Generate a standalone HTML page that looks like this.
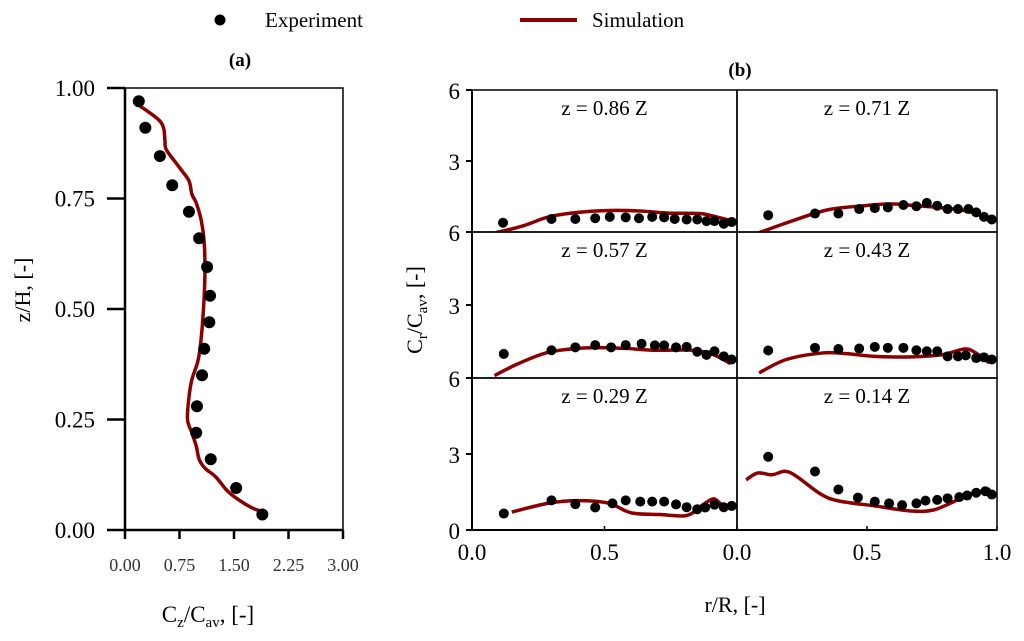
<!DOCTYPE html>
<html><head><meta charset="utf-8"><style>
html,body{margin:0;padding:0;background:#fff;}
svg{display:block;font-family:"Liberation Serif",serif;}
</style></head><body>
<svg id="chart" width="1024" height="641" viewBox="0 0 1024 641">
<g>
<circle cx="220" cy="20" r="5.5" fill="#000"/>
<text x="265" y="27" font-size="21">Experiment</text>
<line x1="520" y1="20" x2="577" y2="20" stroke="#8b0000" stroke-width="4"/>
<text x="592" y="27" font-size="21">Simulation</text>
</g>
<text x="240" y="66" font-size="19" font-weight="bold" text-anchor="middle">(a)</text>
<text x="740" y="76" font-size="19" font-weight="bold" text-anchor="middle">(b)</text>
<text transform="translate(30,290) rotate(-90)" font-size="22" text-anchor="middle">z/H, [-]</text>
<text x="208" y="622" font-size="23" text-anchor="middle">C<tspan font-size="15" dy="5">z</tspan><tspan dy="-5">/C</tspan><tspan font-size="15" dy="5">av</tspan><tspan dy="-5">, [-]</tspan></text>
<text transform="translate(422,310) rotate(-90)" font-size="22" text-anchor="middle">C<tspan font-size="15" dy="5">r</tspan><tspan dy="-5">/C</tspan><tspan font-size="15" dy="5">av</tspan><tspan dy="-5">, [-]</tspan></text>
<text x="735" y="612" font-size="22" text-anchor="middle">r/R, [-]</text>
<g id="gA"></g>
<g id="gB"></g>
</svg>
<script>
// Panel (a)
const aExpC=[0.19,0.28,0.48,0.65,0.88,1.02,1.13,1.17,1.16,1.09,1.06,0.99,0.98,1.18,1.53,1.89];
const aExpZ=[0.97,0.91,0.846,0.78,0.72,0.66,0.595,0.53,0.47,0.41,0.35,0.28,0.22,0.16,0.095,0.035];
const aSimC=[0.20,0.45,0.53,0.55,0.57,0.75,0.88,0.92,0.98,1.05,1.09,1.10,1.08,1.04,1.00,0.92,0.88,0.86,0.92,0.98,1.02,1.10,1.25,1.40,1.55,1.75,1.92];
const aSimZ=[0.96,0.93,0.91,0.88,0.86,0.82,0.79,0.76,0.74,0.70,0.65,0.58,0.50,0.42,0.38,0.34,0.30,0.25,0.22,0.19,0.16,0.14,0.12,0.09,0.07,0.05,0.04];
const aXTicks=["0.00","0.75","1.50","2.25","3.00"];
const aYTicks=["0.00","0.25","0.50","0.75","1.00"];
// Panel (b)
const bTitles=["z = 0.86 Z","z = 0.71 Z","z = 0.57 Z","z = 0.43 Z","z = 0.29 Z","z = 0.14 Z"];
const bExpR=[
[0.117,0.30,0.39,0.465,0.52,0.58,0.63,0.68,0.725,0.765,0.81,0.85,0.885,0.915,0.95,0.98],
[0.12,0.30,0.39,0.47,0.53,0.58,0.64,0.69,0.73,0.77,0.81,0.85,0.89,0.92,0.95,0.98],
[0.12,0.30,0.39,0.465,0.525,0.58,0.64,0.69,0.725,0.77,0.81,0.85,0.885,0.915,0.95,0.98],
[0.12,0.30,0.39,0.47,0.53,0.58,0.64,0.69,0.73,0.77,0.81,0.85,0.88,0.92,0.95,0.98],
[0.12,0.30,0.39,0.465,0.53,0.58,0.635,0.68,0.725,0.77,0.81,0.85,0.88,0.915,0.95,0.98],
[0.12,0.30,0.39,0.465,0.53,0.585,0.635,0.69,0.725,0.77,0.81,0.855,0.885,0.92,0.955,0.98]];
const bExpV=[
[0.39,0.55,0.55,0.58,0.64,0.62,0.58,0.64,0.62,0.55,0.53,0.53,0.46,0.46,0.35,0.42],
[0.71,0.78,0.78,0.97,1.01,1.04,1.14,1.09,1.23,1.11,0.97,0.97,0.97,0.83,0.64,0.53],
[0.99,1.14,1.26,1.35,1.26,1.35,1.41,1.34,1.34,1.26,1.28,1.08,0.95,1.10,0.89,0.76],
[1.13,1.24,1.19,1.21,1.28,1.24,1.24,1.14,1.10,1.10,0.89,0.89,0.93,0.82,0.85,0.76],
[0.65,1.17,1.02,0.89,1.05,1.17,1.12,1.12,1.12,1.01,0.90,0.82,0.89,1.0,0.90,0.95],
[2.89,2.31,1.60,1.28,1.12,1.05,0.98,1.05,1.16,1.19,1.25,1.30,1.36,1.47,1.53,1.40]];
const bSimR=[
[0.09,0.19,0.29,0.40,0.52,0.63,0.74,0.86,0.91,0.97],
[0.085,0.21,0.35,0.49,0.59,0.69,0.80,0.89,0.98],
[0.085,0.175,0.29,0.43,0.57,0.685,0.83,0.91,0.975],
[0.085,0.19,0.33,0.42,0.53,0.675,0.79,0.875,0.915,0.97],
[0.15,0.29,0.40,0.515,0.60,0.71,0.81,0.865,0.91,0.94,0.97],
[0.035,0.08,0.135,0.185,0.23,0.32,0.39,0.53,0.67,0.755,0.84,0.895,0.975]];
const bSimV=[
[-0.03,0.25,0.64,0.83,0.91,0.89,0.80,0.78,0.67,0.50],
[-0.03,0.46,0.94,1.11,1.19,1.11,1.01,0.87,0.55],
[0.10,0.59,1.06,1.24,1.22,1.14,1.14,0.96,0.59],
[0.21,0.76,1.03,1.0,0.89,0.87,0.96,1.19,1.05,0.62],
[0.71,1.06,1.16,1.06,0.68,0.61,0.57,0.95,1.23,1.02,0.85],
[1.98,2.25,2.18,2.32,2.11,1.43,1.15,0.95,0.75,0.79,1.15,1.42,1.61]];
const bYTicks=["0","3","6"];
const bXTicks=["0.0","0.5","1.0"];

const NS="http://www.w3.org/2000/svg";
function mk(p,tag,at){const e=document.createElementNS(NS,tag);for(const k in at)e.setAttribute(k,at[k]);p.appendChild(e);return e;}
function smooth(pts){let d="M"+pts[0][0]+","+pts[0][1];for(let i=0;i<pts.length-1;i++){const p0=pts[i-1]||pts[i],p1=pts[i],p2=pts[i+1],p3=pts[i+2]||p2;const c1=[p1[0]+(p2[0]-p0[0])/6,p1[1]+(p2[1]-p0[1])/6],c2=[p2[0]-(p3[0]-p1[0])/6,p2[1]-(p3[1]-p1[1])/6];d+=" C"+c1[0]+","+c1[1]+" "+c2[0]+","+c2[1]+" "+p2[0]+","+p2[1];}return d;}

// Panel a
const gA=document.getElementById('gA');
const aL=125,aR=343,aT=88,aB=530;
const ax=v=>aL+v/3*(aR-aL), ay=v=>aB-v*(aB-aT);
let r=mk(gA,'rect',{x:aL,y:aT,width:aR-aL,height:aB-aT,fill:'none',stroke:'#000','stroke-width':1.5});


mk(gA,'line',{x1:aL,y1:aT,x2:aL,y2:aB,stroke:'#000','stroke-width':2.5});
mk(gA,'line',{x1:aL,y1:aB,x2:aR,y2:aB,stroke:'#000','stroke-width':2.5});
aYTicks.forEach(t=>{const y=ay(+t);mk(gA,'line',{x1:aL-18,y1:y,x2:aL,y2:y,stroke:'#000','stroke-width':2.5});
 const tx=mk(gA,'text',{x:aL-30,y:y+8,'font-size':23,'text-anchor':'end'});tx.textContent=t;
 
 });
aXTicks.forEach(t=>{const x=ax(+t);mk(gA,'line',{x1:x,y1:aB,x2:x,y2:aB+9,stroke:'#000','stroke-width':2.5});
 const tx=mk(gA,'text',{x:x,y:aB+41,'font-size':18,'text-anchor':'middle',fill:'#333'});tx.textContent=t;
 
 });
let pa=mk(gA,'path',{d:smooth(aSimC.map((c,i)=>[ax(c),ay(aSimZ[i])])),fill:'none',stroke:'#8b0000','stroke-width':3.5});


aExpC.forEach((c,i)=>{const d=mk(gA,'circle',{cx:ax(c),cy:ay(aExpZ[i]),r:6,fill:'#000'});
 
 });

// Panel b
const gB=document.getElementById('gB');
const cols=[[472,737],[737,997]], rows=[[90,232],[232,378],[378,530]];
const defs=mk(gB,'defs',{});
for(let k=0;k<6;k++){
 const [x0,x1]=cols[k%2],[y0,y1]=rows[Math.floor(k/2)];
 const sx=v=>x0+v*(x1-x0), sy=v=>y1-v/6*(y1-y0);
 const cp=mk(defs,'clipPath',{id:'cp'+k});mk(cp,'rect',{x:x0,y:y0-3,width:x1-x0,height:y1-y0+3});
 const g=mk(gB,'g',{});
 
 
 mk(g,'rect',{x:x0,y:y0,width:x1-x0,height:y1-y0,fill:'none',stroke:'#000','stroke-width':1.5});
 if(k%2===0){mk(g,'line',{x1:x0,y1:y0,x2:x0,y2:y1,stroke:'#000','stroke-width':2});
  bYTicks.forEach(t=>{if(k<4&&t==="0")return;const y=sy(+t);mk(g,'line',{x1:x0-6,y1:y,x2:x0,y2:y,stroke:'#000','stroke-width':2});
   const tx=mk(g,'text',{x:x0-12,y:y+9,'font-size':23,'text-anchor':'end'});tx.textContent=t;
   
   });}
 if(k>=4){mk(g,'line',{x1:x0,y1:y1,x2:x1,y2:y1,stroke:'#000','stroke-width':2});
  bXTicks.forEach(t=>{if(k===4&&t==="1.0")return;const x=sx(+t);mk(g,'line',{x1:x,y1:y1-4,x2:x,y2:y1,stroke:'#000','stroke-width':1.5});
   const tx=mk(g,'text',{x:x,y:y1+30,'font-size':23,'text-anchor':'middle'});tx.textContent=t;
   
   });}
 const tt=mk(g,'text',{x:(x0+x1)/2,y:y0+25,'font-size':21,'text-anchor':'middle'});tt.textContent=bTitles[k];
 
 
 const p=mk(g,'path',{d:smooth(bSimR[k].map((v,i)=>[sx(v),sy(bSimV[k][i])])),fill:'none',stroke:'#8b0000','stroke-width':3.5,'clip-path':'url(#cp'+k+')'});
 
 
 bExpR[k].forEach((v,i)=>{const d=mk(g,'circle',{cx:sx(v),cy:sy(bExpV[k][i]),r:5,fill:'#000'});
  
  });
}
</script>
</body></html>
